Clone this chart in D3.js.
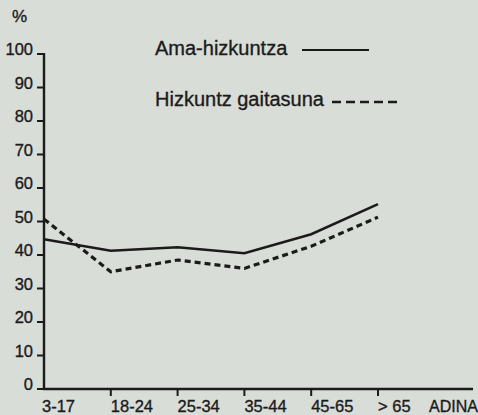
<!DOCTYPE html>
<html>
<head>
<meta charset="utf-8">
<script src="https://cdn.jsdelivr.net/npm/d3@7"></script>
<style>
html, body { margin: 0; padding: 0; background: #d9ddd7; }
svg { display: block; font-family: "Liberation Sans", Arial, sans-serif; }
svg text { fill: #1b1b1b; stroke: #1b1b1b; stroke-width: 0.35px; }
.axis line { stroke: #1b1b1b; }
</style>
</head>
<body>
<svg id="chart" width="478" height="415"></svg>
<script>
var ageGroups = ["3-17", "18-24", "25-34", "35-44", "45-65", "> 65"];
var amaHizkuntza = [44.7, 41.3, 42.3, 40.5, 46.2, 55.2];
var gaitasuna = [50.7, 35, 38.5, 36, 42.6, 51.3];
var yTicks = [0, 10, 20, 30, 40, 50, 60, 70, 80, 90, 100];
var legendNames = ["Ama-hizkuntza", "Hizkuntz gaitasuna"];

var svg = d3.select("#chart");
var x0 = 44, y0 = 389;

var x = d3.scalePoint().domain(ageGroups).range([x0, 378]);
var y = d3.scaleLinear().domain([0, 100]).range([y0, 54]);

// y axis
var yAxis = svg.append("g").attr("class", "axis");
yAxis.append("line")
	.attr("x1", x0).attr("x2", x0)
	.attr("y1", y(100) - 1).attr("y2", y0 + 1)
	.attr("stroke-width", 2.4);
yAxis.selectAll(".tk").data(yTicks).enter().append("line")
	.attr("x1", x0 - 7).attr("x2", x0)
	.attr("y1", function(d){ return y(d); })
	.attr("y2", function(d){ return y(d); })
	.attr("stroke-width", 2);
yAxis.selectAll("text").data(yTicks).enter().append("text")
	.attr("x", 33)
	.attr("y", function(d){ return y(d) + 1; })
	.attr("text-anchor", "end")
	.attr("font-size", 16.5)
	.text(function(d){ return d; });
svg.append("text").attr("x", 12).attr("y", 22)
	.attr("font-size", 17).text("%");

// x axis
var xAxis = svg.append("g").attr("class", "axis");
xAxis.append("line")
	.attr("x1", x0 - 1).attr("x2", 473)
	.attr("y1", y0).attr("y2", y0)
	.attr("stroke-width", 2.4);
xAxis.selectAll(".tk").data(ageGroups.slice(1)).enter().append("line")
	.attr("x1", function(d){ return x(d); })
	.attr("x2", function(d){ return x(d); })
	.attr("y1", y0).attr("y2", y0 + 7)
	.attr("stroke-width", 2);
xAxis.selectAll("text").data(ageGroups).enter().append("text")
	.attr("x", function(d, i){ return x(d) + (i === 0 ? -2 : 0); })
	.attr("y", 412)
	.attr("font-size", 16.5)
	.text(function(d){ return d; });
svg.append("text").attr("x", 429).attr("y", 412)
	.attr("font-size", 16).text("ADINA");

// lines
var line = d3.line()
	.x(function(d, i){ return x(ageGroups[i]); })
	.y(function(d){ return y(d); });

svg.append("path").datum(amaHizkuntza)
	.attr("d", line)
	.attr("fill", "none")
	.attr("stroke", "#1b1b1b")
	.attr("stroke-width", 2.5);
svg.append("path").datum(gaitasuna)
	.attr("d", line)
	.attr("fill", "none")
	.attr("stroke", "#1b1b1b")
	.attr("stroke-width", 3.2)
	.attr("stroke-dasharray", "6,4");

// legend
var legend = svg.append("g");
legend.append("text").attr("x", 155).attr("y", 55)
	.attr("font-size", 20).text(legendNames[0]);
legend.append("line").attr("x1", 302).attr("x2", 369)
	.attr("y1", 50).attr("y2", 50)
	.attr("stroke", "#1b1b1b").attr("stroke-width", 2.2);
legend.append("text").attr("x", 155).attr("y", 106)
	.attr("font-size", 20).text(legendNames[1]);
legend.append("line").attr("x1", 332).attr("x2", 398)
	.attr("y1", 102).attr("y2", 102)
	.attr("stroke", "#1b1b1b").attr("stroke-width", 2.6)
	.attr("stroke-dasharray", "9,5");
</script>
</body>
</html>
